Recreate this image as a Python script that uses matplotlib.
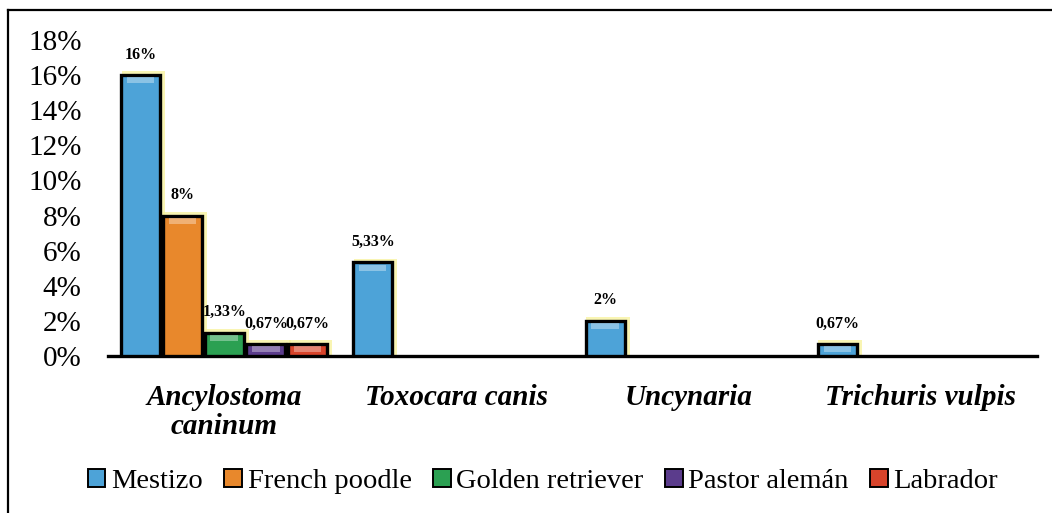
import matplotlib
matplotlib.use("Agg")
import matplotlib.pyplot as plt
import numpy as np
from matplotlib.patches import Rectangle
from matplotlib.lines import Line2D
from matplotlib.ticker import FuncFormatter

categories = ["Ancylostoma\ncaninum", "Toxocara canis", "Uncynaria", "Trichuris vulpis"]
series_names = ["Mestizo", "French poodle", "Golden retriever", "Pastor alemán", "Labrador"]
mestizo = [16, 5.33, 2, 0.67]
french_poodle = [8, 0, 0, 0]
golden_retriever = [1.33, 0, 0, 0]
pastor_aleman = [0.67, 0, 0, 0]
labrador = [0.67, 0, 0, 0]
yticks = [0, 2, 4, 6, 8, 10, 12, 14, 16, 18]

series = [mestizo, french_poodle, golden_retriever, pastor_aleman, labrador]
colors = ["#4DA3D8", "#E8882C", "#2BA052", "#5B3C8C", "#D8442B"]

plt.rcParams['font.family'] = ['Liberation Serif', 'DejaVu Serif']

fig = plt.figure(figsize=(10.52, 5.13), dpi=100)
ax = fig.add_axes([0.1027, 0.306, 0.883, 0.616])

x = np.arange(len(categories))
step = 0.18
width = 0.168
for i, (vals, col) in enumerate(zip(series, colors)):
    pos = x - 2 * step + i * step
    vals = np.array(vals, dtype=float)
    nz = vals > 0
    # yellow glow
    ax.bar(pos[nz] + 0.012, vals[nz] + 0.22, width=width + 0.02, color="#F7F29A",
           alpha=0.75, edgecolor="none", zorder=1)
    ax.bar(pos[nz], vals[nz], width=width, color=col, edgecolor="black",
           linewidth=2.4, zorder=3, label=series_names[i])
    # highlight at top of bar (bevel)
    hl = np.minimum(vals[nz] * 0.5, 0.35)
    ax.bar(pos[nz], hl, bottom=vals[nz] - hl - 0.12,
           width=width * 0.7, color="white", alpha=0.35, edgecolor="none", zorder=4)
    for p, v in zip(pos[nz], vals[nz]):
        lab = f"{v:g}".replace(".", ",") + "%"
        ax.annotate(lab, (p, v), xytext=(0, 9), textcoords="offset points",
                    ha="center", va="bottom", fontsize=11.5, fontweight="bold", zorder=5)

ax.set_xlim(-0.5, len(categories) - 0.5)
ax.set_ylim(0, 18)
ax.set_yticks(yticks)
ax.yaxis.set_major_formatter(FuncFormatter(lambda v, p: f"{v:.0f}%"))
ax.tick_params(axis="y", length=0, pad=19, labelsize=21)
ax.set_xticks(x)
ax.set_xticklabels(categories, fontsize=21, fontweight="bold", fontstyle="italic",
                   linespacing=1.1)
ax.tick_params(axis="x", length=0, pad=20)
for s in ["top", "right", "left"]:
    ax.spines[s].set_visible(False)
ax.spines["bottom"].set_linewidth(2.4)
ax.spines["bottom"].set_zorder(2)

handles = [Rectangle((0, 0), 1, 1, facecolor=c, edgecolor="black", linewidth=1.4) for c in colors]
fig.legend(handles, series_names, loc="center", bbox_to_anchor=(0.516, 0.062), ncol=5,
           frameon=False, fontsize=20.5, handlelength=0.62, handleheight=0.62,
           handletextpad=0.2, columnspacing=0.75, borderpad=0)

# chart frame (top and left edges visible)
fig.lines.append(Line2D([0.0076, 1.0], [1 - 10 / 513, 1 - 10 / 513], transform=fig.transFigure,
                        color="black", linewidth=1.6))
fig.lines.append(Line2D([0.0076, 0.0076], [0.0, 1 - 10 / 513], transform=fig.transFigure,
                        color="black", linewidth=1.6))

fig.savefig("out.png", dpi=100)
